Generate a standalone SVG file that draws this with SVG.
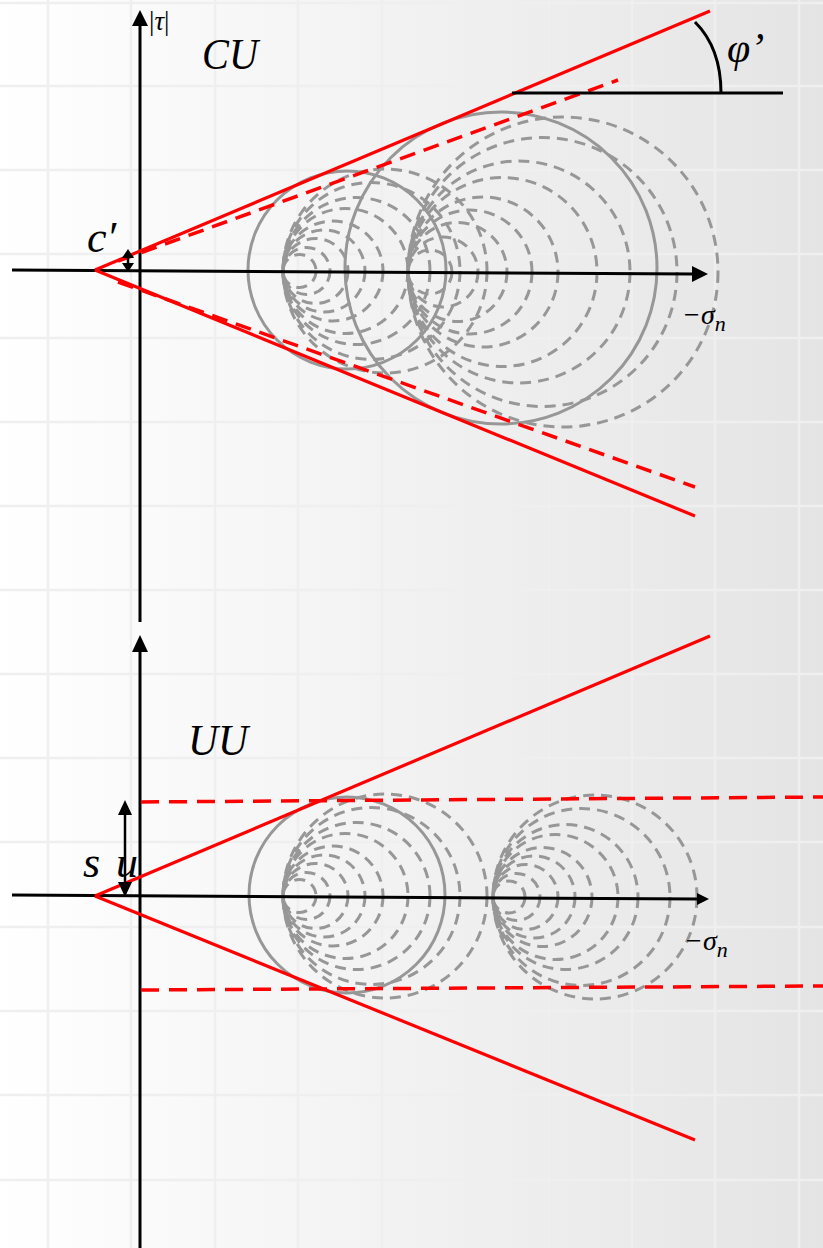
<svg xmlns="http://www.w3.org/2000/svg" width="823" height="1248" viewBox="0 0 823 1248">
<defs>
<linearGradient id="bg" x1="0" y1="0" x2="1" y2="0">
<stop offset="0" stop-color="#ffffff"/>
<stop offset="1" stop-color="#e4e4e4"/>
</linearGradient>
<style>
.grid{stroke:#efefef;stroke-width:2.5;fill:none}
.ax{stroke:#000;stroke-width:3;fill:none}
.ah{fill:#000;stroke:none}
.red{stroke:#ff0000;stroke-width:3.2;fill:none;stroke-linecap:butt}
.redd{stroke:#ff0000;stroke-width:3.5;fill:none;stroke-dasharray:16 9}
.redd2{stroke:#ff0000;stroke-width:3.5;fill:none;stroke-dasharray:18 10}
.cs{stroke:#979797;stroke-width:3;fill:none}
.cd{stroke:#979797;stroke-width:3;fill:none;stroke-dasharray:11 7}
.mi{font-family:"Liberation Serif","DejaVu Serif",serif;font-style:italic;fill:#000}
</style>
</defs>
<rect id="background" x="0" y="0" width="823" height="1248" fill="url(#bg)"/>
<g id="grid" class="grid">
<path d="M48 0V1248M131 0V1248M215 0V1248M298 0V1248M382 0V1248M465 0V1248M549 0V1248M632 0V1248M715 0V1248M799 0V1248"/>
<path d="M0 3H823M0 86H823M0 170H823M0 254H823M0 338H823M0 422H823M0 506H823M0 590H823M0 674H823M0 758H823M0 842H823M0 927H823M0 1011H823M0 1095H823M0 1180H823"/>
</g>

<g id="cu-circles">
<circle class="cs" cx="347" cy="270" r="99"/>
<circle class="cs" cx="501" cy="268" r="156"/>
<g id="cu-familyA">
<circle class="cd" cx="299.5" cy="271" r="16.5"/>
<circle class="cd" cx="306.5" cy="271" r="23.5"/>
<circle class="cd" cx="315.5" cy="271" r="32.5"/>
<circle class="cd" cx="324" cy="271" r="41"/>
<circle class="cd" cx="333" cy="271" r="50"/>
<circle class="cd" cx="345.5" cy="271" r="62.5"/>
<circle class="cd" cx="356.5" cy="271" r="73.5"/>
<circle class="cd" cx="371.5" cy="271" r="88.5"/>
<circle class="cd" cx="385" cy="271" r="102"/>
</g>
<g id="cu-familyB">
<circle class="cd" cx="430" cy="272" r="22"/>
<circle class="cd" cx="443" cy="272" r="35"/>
<circle class="cd" cx="457.5" cy="272" r="49.5"/>
<circle class="cd" cx="470" cy="272" r="62"/>
<circle class="cd" cx="483" cy="272" r="75"/>
<circle class="cd" cx="502.5" cy="272" r="94.5"/>
<circle class="cd" cx="519" cy="272" r="111"/>
<circle class="cd" cx="542.5" cy="272" r="134.5"/>
<circle class="cd" cx="563" cy="272" r="155"/>
</g>
</g>

<g id="uu-circles">
<circle class="cs" cx="347" cy="895" r="98"/>
<g id="uu-familyA">
<circle class="cd" cx="299.5" cy="896" r="16.5"/>
<circle class="cd" cx="306.5" cy="896" r="23.5"/>
<circle class="cd" cx="315.5" cy="896" r="32.5"/>
<circle class="cd" cx="324" cy="896" r="41"/>
<circle class="cd" cx="333" cy="896" r="50"/>
<circle class="cd" cx="345.5" cy="896" r="62.5"/>
<circle class="cd" cx="356.5" cy="896" r="73.5"/>
<circle class="cd" cx="371.5" cy="896" r="88.5"/>
<circle class="cd" cx="385" cy="896" r="102"/>
</g>
<g id="uu-familyB">
<circle class="cd" cx="509" cy="897" r="16"/>
<circle class="cd" cx="516.5" cy="897" r="23.5"/>
<circle class="cd" cx="525.5" cy="897" r="32.5"/>
<circle class="cd" cx="534" cy="897" r="41"/>
<circle class="cd" cx="542.5" cy="897" r="49.5"/>
<circle class="cd" cx="555.5" cy="897" r="62.5"/>
<circle class="cd" cx="565.5" cy="897" r="72.5"/>
<circle class="cd" cx="581.5" cy="897" r="88.5"/>
<circle class="cd" cx="595" cy="897" r="102"/>
</g>
</g>

<g id="axes">
<line class="ax" x1="140" y1="24" x2="140" y2="622"/>
<polygon class="ah" points="140,10 132,26 148,26"/>
<line class="ax" x1="12" y1="270" x2="695" y2="274"/>
<polygon class="ah" points="708,274 692,266 692,282"/>
<line class="ax" x1="140" y1="650" x2="140" y2="1248"/>
<polygon class="ah" points="140,635 132,652 148,652"/>
<line class="ax" x1="12" y1="895" x2="698" y2="899"/>
<polygon class="ah" points="709,899 697,893 697,905"/>
</g>

<g id="connectors">
<g id="cu-envelopes">
<line class="red" x1="95" y1="270" x2="710" y2="11"/>
<line class="red" x1="95" y1="270" x2="695" y2="516"/>
<line class="redd" x1="118" y1="261" x2="618" y2="80"/>
<line class="redd" x1="118" y1="282" x2="695" y2="487"/>
</g>
<g id="uu-envelopes">
<line class="red" x1="95" y1="896" x2="710" y2="636"/>
<line class="red" x1="95" y1="896" x2="695" y2="1140"/>
<line class="redd2" x1="141" y1="802" x2="823" y2="797"/>
<line class="redd2" x1="141" y1="990" x2="823" y2="986"/>
</g>
<g id="phi-angle">
<line class="ax" x1="512" y1="93" x2="783" y2="93"/>
<path class="ax" d="M695 22C711 38 721 62 721 93"/>
</g>
<g id="c-arrow">
<line stroke="#000" stroke-width="2.5" x1="128" y1="256" x2="128" y2="265"/>
<polygon class="ah" points="128,249 122,258 134,258"/>
<polygon class="ah" points="128,272 122,263 134,263"/>
</g>
<g id="su-arrow">
<line stroke="#000" stroke-width="2.5" x1="125" y1="812" x2="125" y2="884"/>
<polygon class="ah" points="125,800 118,815 132,815"/>
<polygon class="ah" points="125,897 118,882 132,882"/>
</g>
</g>

<g id="labels">
<text class="mi" x="149" y="30" font-size="27" style="font-style:normal">|<tspan style="font-style:italic">τ</tspan>|</text>
<text class="mi" x="202" y="69" font-size="44" textLength="56" lengthAdjust="spacingAndGlyphs">CU</text>
<text class="mi" x="87" y="252" font-size="44">c′</text>
<text class="mi" x="727" y="62" font-size="42">φ’</text>
<text class="mi" x="682" y="324" font-size="28">−σ<tspan font-size="22" dy="7">n</tspan></text>
<text class="mi" x="188" y="755" font-size="44" textLength="60" lengthAdjust="spacingAndGlyphs">UU</text>
<text class="mi" x="83" y="877" font-size="44">s</text>
<text class="mi" x="116" y="877" font-size="44">u</text>
<text class="mi" x="684" y="950" font-size="28">−σ<tspan font-size="22" dy="7">n</tspan></text>
</g>
</svg>
